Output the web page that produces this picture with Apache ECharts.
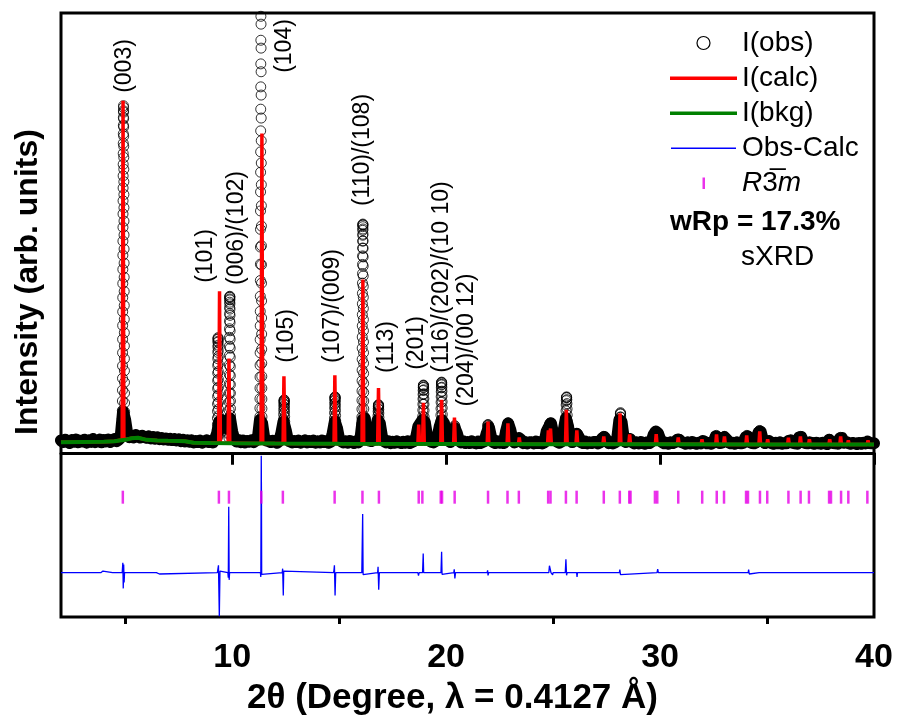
<!DOCTYPE html>
<html><head><meta charset="utf-8">
<script src="https://cdn.jsdelivr.net/npm/echarts@6/dist/echarts.min.js"></script>
<style>html,body{margin:0;padding:0;background:#fff;overflow:hidden}#c{width:897px;height:721px}</style>
</head><body><div id="c"></div>
<script>
const FONT = '"Liberation Sans", Arial, sans-serif';

// ---------- axis ----------
const X_MIN = 2, X_MAX = 40;
const Y_MIN = -5000, Y_MAX = 13400;
const majorTicks = [10, 20, 30, 40];
const minorTicks = [5, 15, 25, 35];

// ---------- observed intensity: baseline, 2.0 .. 40.0 step 0.1 ----------
const OBS_BASE_START = 2.0, OBS_BASE_STEP = 0.1;
const obsBase = [
 380,330,400,350,300,390,340,410,320,370,
 350,400,310,380,340,420,330,360,400,320,
 390,350,410,330,380,420,360,400,560,1250,
 1000,560,480,520,470,540,500,470,520,480,
 460,500,440,480,430,470,420,450,410,440,
 400,430,390,420,380,410,360,400,350,380,
 340,380,320,360,330,370,310,350,380,330,
 360,320,420,600,950,1000,800,760,950,1050,
 650,420,350,390,330,370,320,360,340,380,
 330,370,450,1000,900,450,380,360,330,370,
 340,310,360,600,950,700,400,350,320,360,
 330,370,310,350,380,320,360,330,370,310,
 350,320,370,330,360,310,340,600,950,750,
 420,360,320,350,310,360,330,300,350,320,
 450,1000,1050,480,380,360,400,600,1000,900,
 500,360,320,350,300,340,310,350,320,300,
 340,310,350,300,330,360,480,800,900,1000,
 950,550,380,340,320,360,480,800,1000,900,
 500,380,330,600,750,600,380,320,350,300,
 330,300,350,310,290,340,300,330,360,600,
 780,480,330,300,350,310,340,300,650,900,
 700,400,320,350,450,400,300,330,290,320,
 320,290,340,300,330,290,320,650,780,900,
 600,420,340,310,350,700,1050,800,400,330,
 400,580,480,330,300,340,290,320,300,330,
 330,290,320,450,480,380,300,330,290,320,
 450,1000,950,450,330,380,420,330,290,320,
 290,330,300,280,320,300,340,550,650,600,
 420,330,290,310,280,320,300,330,400,400,
 330,310,280,320,290,330,300,280,310,290,
 360,330,290,310,280,320,500,480,300,310,
 480,420,320,290,310,280,320,300,290,310,
 480,500,330,300,290,320,620,650,400,300,
 340,360,300,280,310,290,320,280,300,290,
 360,380,310,290,280,470,480,330,300,290,
 320,300,280,310,290,280,310,290,270,400,
 330,300,290,280,440,450,310,330,300,280,
 300,290,270,300,280,310,290,340,300,290,
 290
];

// ---------- observed intensity: Bragg peaks [start 2θ, step, intensities] ----------
const obsPeaks = [
 [4.858, 0.002, [470,560,680,840,1040,1290,1580,1910,2270,2650,3050,3460,3880,4300,4730,5160,5590,6020,6450,6870,7280,7680,8070,8440,8790,9120,9430,9720,9980,10220,10420,10574,10520,10380,10180,9930,9650,9340,9000,8640,8260,7870,7470,7060,6640,6210,5780,5350,4920,4490,4070,3660,3260,2870,2500,2150,1820,1520,1250,1010,810,650,530]],
 [9.306, 0.002, [460,560,700,870,1060,1270,1490,1720,1960,2200,2430,2660,2870,3060,3230,3370,3460,3510,3480,3400,3280,3120,2930,2710,2480,2240,2000,1770,1540,1330,1130,950,790,660,550]],
 [9.848, 0.002, [460,560,700,870,1070,1300,1550,1820,2100,2390,2680,2970,3250,3520,3780,4020,4240,4430,4590,4690,4750,4770,4740,4660,4540,4380,4190,3970,3720,3460,3190,2910,2630,2350,2080,1820,1580,1350,1140,950,790,660,550]],
 [11.287, 0.002, [470,560,700,880,1100,1360,1650,1970,2310,2670,3050,3450,3870,4310,4770,5250,5750,6270,6810,7370,7950,8550,9170,9810,10470,11150,11850,12570,13300,14050,13800,13060,12330,11610,10900,10200,9510,8830,8170,7530,6910,6310,5730,5170,4630,4110,3620,3160,2730,2330,1970,1640,1350,1100,890,720,590,500]],
 [12.386, 0.004, [450,560,700,860,1020,1170,1300,1410,1500,1560,1600,1615,1590,1540,1460,1360,1240,1100,950,800,660,540]],
 [14.766, 0.004, [450,570,720,890,1060,1220,1370,1490,1590,1660,1695,1705,1680,1620,1530,1420,1290,1140,980,820,670,550]],
 [16.056, 0.002, [460,560,700,880,1090,1330,1600,1890,2200,2520,2850,3190,3530,3870,4210,4540,4860,5170,5460,5740,6000,6240,6450,6630,6780,6890,6950,6970,6940,6820,6660,6460,6230,5970,5690,5390,5070,4740,4400,4060,3720,3380,3050,2730,2420,2120,1840,1580,1340,1120,930,770,640,540]],
 [16.80, 0.004, [450,560,700,850,1000,1140,1260,1350,1420,1455,1464,1450,1400,1320,1210,1080,940,790,650,540]],
 [18.892, 0.004, [450,580,740,920,1110,1300,1480,1640,1780,1900,1990,2040,2065,2050,2000,1920,1800,1650,1480,1290,1100,910,740,590,480]],
 [19.742, 0.004, [450,590,760,950,1150,1350,1540,1710,1860,1980,2070,2130,2155,2140,2090,2000,1880,1730,1560,1370,1170,970,780,610,490]],
 [20.36, 0.01, [450,560,680,780,830,810,740,640,540,450]],
 [21.91, 0.01, [420,520,650,770,850,863,830,740,620,500,410]],
 [22.85, 0.01, [420,530,660,790,880,905,870,780,650,520,420]],
 [23.41, 0.01, [360,400,420,400,360]],
 [24.74, 0.01, [420,520,620,690,713,700,690,700,750,810,860,890,905,880,820,720,600,480,390]],
 [25.576, 0.006, [420,540,700,880,1080,1280,1460,1590,1680,1705,1690,1620,1500,1340,1150,950,760,590,460]],
 [26.10, 0.01, [380,470,550,593,570,500,420]],
 [27.34, 0.01, [360,430,490,503,470,410,350]],
 [28.114, 0.006, [420,560,740,930,1090,1190,1224,1190,1090,930,750,570,430]],
 [28.57, 0.01, [350,400,420,400,350]],
 [29.72, 0.02, [380,500,610,653,630,640,620,520,400]],
 [30.83, 0.01, [360,400,420,400,360]],
 [32.61, 0.01, [400,480,533,500,420]],
 [33.00, 0.01, [400,470,503,470,400]],
 [34.04, 0.01, [400,480,533,510,430]],
 [34.62, 0.01, [420,560,660,683,640,540,420]],
 [36.54, 0.01, [400,470,503,470,400]],
 [37.91, 0.01, [360,400,412,390,350]],
 [38.41, 0.01, [380,440,473,440,380]]
];

// ---------- background ----------
const bkgX = [2, 3, 4, 4.5, 5, 5.3, 5.6, 6, 6.5, 7, 7.5, 7.8, 8.2, 9, 10, 12, 15, 20, 25, 30, 35, 40];
const bkgY = [322, 330, 337, 352, 397, 445, 462, 397, 380, 367, 360, 352, 307, 300, 292, 285, 278, 272, 266, 262, 258, 252];

// ---------- calculated peak maxima ----------
const calcPeakX = [4.90, 9.41, 9.85, 11.39, 12.42, 14.80, 16.11, 16.84, 18.72, 18.94, 19.79, 20.39, 21.96, 22.89, 23.42, 24.78, 24.88, 25.62, 26.11, 27.37, 28.13, 28.58, 29.82, 30.85, 31.96, 32.64, 33.01, 34.05, 34.66, 35.03, 36.00, 36.56, 36.98, 37.93, 38.44, 38.80, 39.72];
const calcPeakY = [10724, 4922, 2877, 9732, 2336, 2366, 5282, 1975, 863, 1524, 1615, 1073, 953, 902, 472, 683, 743, 1314, 683, 502, 1206, 562, 571, 472, 412, 562, 502, 532, 653, 412, 461, 502, 412, 412, 502, 382, 382];

// ---------- difference curve (Obs - Calc) ----------
const diffPts = [
 [2.0,0],[3.86,0],[3.96,50],[4.01,0],[4.41,0],[4.42,40],[4.43,0],[4.86,0],[4.89,304],[4.91,-478],[4.93,250],[4.95,-300],[4.97,0],
 [5.16,0],[5.21,60],[5.23,-50],[5.26,0],[5.51,0],[5.54,50],[5.58,0],[6.46,0],[6.47,-50],[6.49,0],[6.60,-40],[6.62,0],
 [9.31,0],[9.36,223],[9.40,-1330],[9.43,50],[9.46,0],
 [9.80,0],[9.82,-150],[9.84,2008],[9.86,-218],[9.88,0],
 [11.32,0],[11.34,-128],[11.36,3560],[11.37,2350],[11.38,-50],[11.40,0],
 [12.34,0],[12.36,123],[12.39,-697],[12.41,50],[12.43,0],
 [14.74,0],[14.76,90],[14.78,223],[14.81,-697],[14.84,0],
 [16.06,0],[16.08,-57],[16.10,1786],[16.12,-57],[16.14,0],
 [16.80,0],[16.82,183],[16.85,-517],[16.88,0],
 [18.68,0],[18.71,-88],[18.74,0],
 [18.90,0],[18.93,584],[18.95,0],
 [19.76,0],[19.79,634],[19.81,-50],[19.83,0],
 [20.36,0],[20.38,103],[20.41,-178],[20.44,0],
 [21.92,0],[21.94,69],[21.96,-81],[21.99,0],
 [22.86,0],[22.87,-50],[22.88,0],
 [24.80,0],[24.83,213],[24.87,100],[24.90,0],[24.95,0],[24.98,-70],[25.00,0],
 [25.57,0],[25.60,412],[25.63,-81],[25.66,0],
 [26.10,0],[26.12,-132],[26.14,0],
 [27.34,0],[27.36,-50],[27.38,0],
 [28.10,0],[28.12,93],[28.15,-57],[28.17,0],
 [29.86,0],[29.89,108],[29.92,0],
 [30.83,0],[30.85,-50],[30.87,0],
 [32.63,0],[32.64,-40],[32.65,0],
 [34.12,0],[34.14,93],[34.17,-40],[34.19,0],
 [34.63,0],[34.64,-50],[34.66,0],
 [37.86,0],[37.88,40],[37.90,0],
 [38.43,0],[38.45,40],[38.47,-40],[38.49,0],
 [40.0,0]
];
const DIFF_OFFSET = -3650;

// ---------- Bragg reflection positions (R-3m) ----------
const reflections = [4.89, 9.38, 9.85, 11.36, 12.37, 14.79, 16.09, 16.86, 18.72, 18.89, 19.75, 19.81, 20.40, 21.96, 22.87, 23.40, 24.77, 24.88, 25.60, 26.10, 27.37, 28.12, 28.56, 28.62, 29.76, 29.87, 30.85, 31.97, 32.65, 32.99, 34.02, 34.11, 34.67, 35.01, 36.00, 36.57, 36.96, 37.90, 37.99, 38.46, 38.80, 39.69];
const TICK_ROW = -1350;

// ---------- hkl labels ----------
const hklLabels = ['(003)', '(101)', '(006)/(102)', '(104)', '(105)', '(107)/(009)', '(110)/(108)', '(113)', '(201)', '(116)/(202)/(10 10)', '(204)/(00 12)'];
const hklPixel = [[125,66],[206,256],[237,228],[285,46],[287,336],[333,306],[363,150],[387,347],[417,343],[442,277],[467,340]];

// ---------- build series data ----------
const obsBaseData = obsBase.map((v, i) => [+(OBS_BASE_START + i * OBS_BASE_STEP).toFixed(3), v]);
const obsPeakData = [];
obsPeaks.forEach(([s, st, vals]) => vals.forEach((v, i) => obsPeakData.push([+(s + i * st).toFixed(4), v])));

const SPIKE_W = 0.04;
function bkgAt(x) {
  let bi = 0;
  for (let i = 1; i < bkgX.length; i++) if (Math.abs(bkgX[i] - x) < Math.abs(bkgX[bi] - x)) bi = i;
  return bkgY[bi];
}
const calcData = bkgX.map((x, i) => [x, bkgY[i]]).filter(p => !calcPeakX.some(c => Math.abs(p[0] - c) <= SPIKE_W));
calcPeakX.forEach((c, i) => {
  const b = bkgAt(c);
  calcData.push([+(c - SPIKE_W).toFixed(3), b], [c, calcPeakY[i]], [+(c + SPIKE_W).toFixed(3), b]);
});
calcData.sort((a, b) => a[0] - b[0]);

const bkgData = bkgX.map((x, i) => [x, bkgY[i]]);
const diffData = diffPts.map(p => [p[0], p[1] + DIFF_OFFSET]);
const tickData = reflections.map(x => [x, TICK_ROW]);

const obsStyle = { color: 'rgba(0,0,0,0)', borderColor: '#000', borderWidth: 1 };

const chart = echarts.init(document.getElementById('c'), null, { renderer: 'canvas', width: 897, height: 721 });
chart.setOption({
  animation: false,
  backgroundColor: '#fff',
  grid: { left: 61, top: 13, width: 813, height: 612, show: true, borderColor: '#000', borderWidth: 3, backgroundColor: 'rgba(0,0,0,0)' },
  xAxis: [{
    type: 'value', min: X_MIN, max: X_MAX, position: 'bottom',
    name: '2θ (Degree, λ = 0.4127 Å)', nameLocation: 'middle', nameGap: 64,
    nameTextStyle: { fontFamily: FONT, fontSize: 35, fontWeight: 'bold', color: '#000', padding: [0, 30, 0, 0] },
    axisLine: { show: true, lineStyle: { color: '#000', width: 3 } },
    axisTick: { show: true, customValues: majorTicks, length: 12, lineStyle: { color: '#000', width: 3 } },
    axisLabel: { customValues: majorTicks, fontFamily: FONT, fontSize: 34, fontWeight: 'bold', color: '#000', margin: 24 },
    splitLine: { show: false }
  }, {
    type: 'value', min: X_MIN, max: X_MAX, position: 'bottom',
    axisLine: { show: false },
    axisTick: { show: true, customValues: minorTicks, length: 7, lineStyle: { color: '#000', width: 3 } },
    axisLabel: { show: false },
    splitLine: { show: false }
  }],
  yAxis: {
    type: 'value', min: Y_MIN, max: Y_MAX,
    axisLine: { show: false }, axisTick: { show: false }, axisLabel: { show: false }, splitLine: { show: false }
  },
  legend: {
    orient: 'vertical', left: 665, top: 24, itemWidth: 67, itemHeight: 13, itemGap: 7,
    selectedMode: false,
    textStyle: {
      fontFamily: FONT, fontSize: 28, color: '#000', lineHeight: 28,
      rich: {
        it: { fontFamily: FONT, fontSize: 28, fontStyle: 'italic', color: '#000', lineHeight: 28 },
        n: { fontFamily: FONT, fontSize: 28, color: '#000', lineHeight: 28 }
      }
    },
    formatter: name => name === 'R-3m' ? '{it|R}{n|3\u0305}{it|m}' : name,
    data: [
      { name: 'I(obs)', icon: 'circle', itemStyle: { color: 'rgba(0,0,0,0)', borderColor: '#000', borderWidth: 1.2 } },
      { name: 'I(calc)', icon: 'path://M0,0M67,13M0,5L67,5L67,8.5L0,8.5Z', itemStyle: { color: '#ff0000', borderWidth: 0 } },
      { name: 'I(bkg)', icon: 'path://M0,0M67,13M0,5L67,5L67,8.5L0,8.5Z', itemStyle: { color: '#008000', borderWidth: 0 } },
      { name: 'Obs-Calc', icon: 'path://M0,0M67,13M1,6L66,6L66,7.4L1,7.4Z', itemStyle: { color: '#0000ff', borderWidth: 0 } },
      { name: 'R-3m', icon: 'path://M0,0M67,13M32.5,1L35,1L35,12.5L32.5,12.5Z', itemStyle: { color: '#e600e6', borderWidth: 0 } }
    ]
  },
  graphic: [
    { type: 'text', rotation: Math.PI / 2, x: 28, y: 282,
      style: { text: 'Intensity (arb. units)', font: 'bold 32px ' + FONT, fill: '#000', textAlign: 'center', textVerticalAlign: 'middle' } },
    { type: 'text', x: 670, y: 222,
      style: { text: 'wRp = 17.3%', font: 'bold 28px ' + FONT, fill: '#000', textAlign: 'left', textVerticalAlign: 'middle' } },
    { type: 'text', x: 741, y: 257,
      style: { text: 'sXRD', font: '28px ' + FONT, fill: '#000', textAlign: 'left', textVerticalAlign: 'middle' } }
  ].concat(hklLabels.map((t, i) => ({
    type: 'text', rotation: Math.PI / 2, x: hklPixel[i][0], y: hklPixel[i][1], z: 10,
    style: { text: t, font: '23px ' + FONT, fill: '#000', textAlign: 'center', textVerticalAlign: 'middle' }
  }))),
  series: [
    { name: 'I(obs)', type: 'line', data: obsBaseData, symbol: 'circle', showSymbol: true, showAllSymbol: true, symbolSize: 10,
      itemStyle: obsStyle, lineStyle: { color: '#000', width: 12, join: 'round', cap: 'round' }, z: 2, silent: true, clip: true },
    { name: 'I(obs)', type: 'scatter', data: obsPeakData, symbol: 'circle', symbolSize: 10, itemStyle: obsStyle, z: 2, silent: true, progressive: 0, clip: true },
    { name: 'I(calc)', type: 'line', data: calcData, symbol: 'none', color: '#ff0000',
      lineStyle: { color: '#ff0000', width: 3.5, join: 'bevel', cap: 'butt' }, z: 3, silent: true, clip: true },
    { name: 'I(bkg)', type: 'line', data: bkgData, symbol: 'none', color: '#008000',
      lineStyle: { color: '#008000', width: 4 }, z: 4, silent: true },
    { name: 'Obs-Calc', type: 'line', data: diffData, symbol: 'none', color: '#0000ff',
      lineStyle: { color: '#0000ff', width: 1.3, join: 'bevel' }, z: 5, silent: true },
    { name: 'R-3m', type: 'scatter', data: tickData, symbol: 'rect', symbolSize: [2.5, 13], color: '#e600e6',
      itemStyle: { color: '#e600e6' }, z: 6, silent: true }
  ]
});
</script></body></html>
